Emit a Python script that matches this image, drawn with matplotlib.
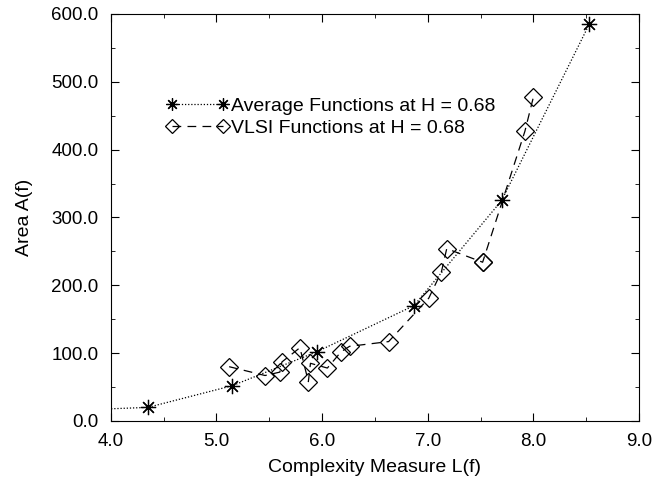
import numpy as np
import matplotlib.pyplot as plt
from matplotlib.ticker import MultipleLocator, FormatStrFormatter

# Data
avg_L = [3.5, 4.35, 5.15, 5.95, 6.87, 7.70, 8.53]
avg_A = [15, 20, 52, 102, 170, 325, 585]

vlsi_L = [5.12, 5.46, 5.60, 5.62, 5.79, 5.87, 5.89, 6.05, 6.18, 6.26,
          6.63, 7.01, 7.13, 7.18, 7.52, 7.52, 7.92, 8.00]
vlsi_A = [80, 67, 72, 87, 108, 58, 85, 78, 102, 110,
          117, 181, 220, 254, 234, 234, 427, 477]

plt.rcParams['font.family'] = ['Liberation Sans', 'DejaVu Sans']

fig = plt.figure(figsize=(6.52, 4.80), dpi=100)
ax = fig.add_axes([0.170, 0.123, 0.810, 0.848])

ax.plot(avg_L, avg_A, color='black', linestyle=(0, (1, 1.5)), linewidth=0.9,
        marker=(8, 2, 0), markersize=11, markeredgewidth=0.9,
        label='Average Functions at H = 0.68')
ax.plot(vlsi_L, vlsi_A, color='black', linestyle=(0, (7, 5)), linewidth=0.9,
        marker='D', markersize=9, markerfacecolor='none', markeredgewidth=0.9,
        label='VLSI Functions at H = 0.68')

ax.set_xlim(4.0, 9.0)
ax.set_ylim(0, 600)
ax.xaxis.set_major_locator(MultipleLocator(1.0))
ax.xaxis.set_minor_locator(MultipleLocator(0.5))
ax.yaxis.set_major_locator(MultipleLocator(100))
ax.yaxis.set_minor_locator(MultipleLocator(50))
ax.xaxis.set_major_formatter(FormatStrFormatter('%.1f'))
ax.yaxis.set_major_formatter(FormatStrFormatter('%.1f'))
ax.tick_params(which='both', direction='in', top=True, right=True, labelsize=13.5)
ax.tick_params(which='major', length=6, pad=9)
ax.tick_params(which='minor', length=3)

ax.set_xlabel('Complexity Measure L(f)', fontsize=14, labelpad=6)
ax.set_ylabel('Area A(f)', fontsize=14, labelpad=13)

ax.legend(loc='upper left', bbox_to_anchor=(0.09, 0.815), frameon=False,
          fontsize=14, numpoints=2, handlelength=3.2, handletextpad=0.15,
          labelspacing=0.25, borderaxespad=0, markerscale=0.8)

fig.savefig('out.png', dpi=100)
